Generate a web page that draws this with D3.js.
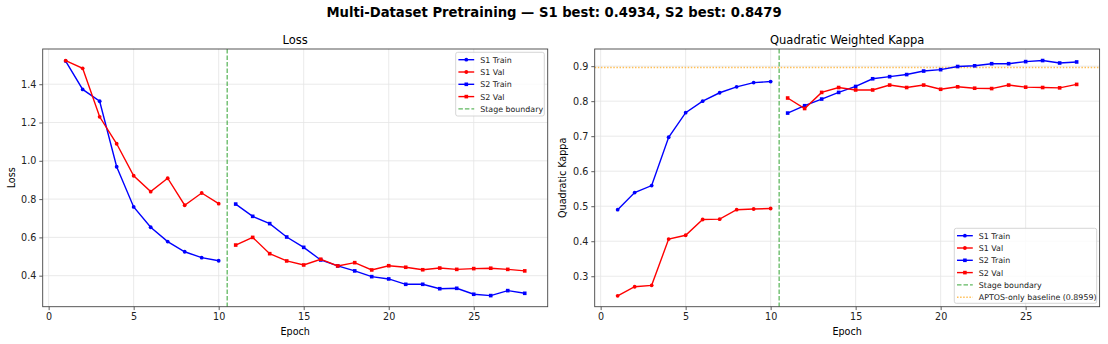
<!DOCTYPE html>
<html><head><meta charset="utf-8">
<script src="https://cdn.jsdelivr.net/npm/d3@7"></script>
<style>body{margin:0;background:#fff}svg{display:block;font-family:"DejaVu Sans",sans-serif}</style>
</head><body><svg id="c" width="1108" height="344"></svg>
<script>
const s1Epochs = [1,2,3,4,5,6,7,8,9,10];
const s2Epochs = [11,12,13,14,15,16,17,18,19,20,21,22,23,24,25,26,27,28];
const s1TrainLoss = [1.521,1.373,1.311,0.969,0.759,0.653,0.578,0.525,0.494,0.478];
const s1ValLoss = [1.523,1.483,1.230,1.089,0.922,0.839,0.909,0.768,0.832,0.776];
const s2TrainLoss = [0.774,0.710,0.672,0.602,0.548,0.482,0.451,0.425,0.395,0.383,0.355,0.355,0.332,0.334,0.303,0.296,0.322,0.308];
const s2ValLoss = [0.560,0.600,0.515,0.477,0.456,0.486,0.451,0.468,0.430,0.452,0.444,0.431,0.440,0.433,0.437,0.439,0.433,0.425];
const s1TrainKappa = [0.490,0.539,0.559,0.697,0.767,0.800,0.824,0.841,0.853,0.856];
const s1ValKappa = [0.244,0.270,0.274,0.406,0.417,0.462,0.463,0.490,0.492,0.4934];
const s2TrainKappa = [0.766,0.787,0.806,0.825,0.842,0.864,0.870,0.876,0.886,0.890,0.899,0.901,0.907,0.907,0.913,0.916,0.909,0.912];
const s2ValKappa = [0.809,0.779,0.825,0.839,0.832,0.832,0.846,0.839,0.846,0.834,0.841,0.837,0.836,0.846,0.840,0.839,0.838,0.8479];
const xTicks = [0,5,10,15,20,25];
const lossTicks = [0.4,0.6,0.8,1.0,1.2,1.4];
const kappaTicks = [0.3,0.4,0.5,0.6,0.7,0.8,0.9];
const stageBoundary = 10.5;
const baseline = 0.8959;
const suptitle = "Multi-Dataset Pretraining — S1 best: 0.4934, S2 best: 0.8479";

const svg = d3.select("#c");
const BLUE = "#0000ff", RED = "#ff0000";
const GREEN_DASH = "4.5,2", ORANGE_DOT = "1.5,1.6";
const ORANGE = "#ffbe55";

svg.append("text").attr("x",554).attr("y",17).attr("text-anchor","middle")
  .attr("font-size",13.2).attr("font-weight","bold").attr("fill","#000").text(suptitle);

function panel(o){
  const x = d3.scaleLinear().domain([-0.35,29.35]).range([o.x0,o.x1]);
  const y = d3.scaleLinear().domain(o.ydom).range([306.7,49]);
  const g = svg.append("g");
  g.selectAll(".gx").data(xTicks).join("line")
    .attr("x1",d=>x(d)).attr("x2",d=>x(d)).attr("y1",49).attr("y2",306.7)
    .attr("stroke","#e5e5e5").attr("stroke-width",0.8);
  g.selectAll(".gy").data(o.yticks).join("line")
    .attr("y1",d=>y(d)).attr("y2",d=>y(d)).attr("x1",o.x0).attr("x2",o.x1)
    .attr("stroke","#e5e5e5").attr("stroke-width",0.8);
  const ax = g.append("g").attr("transform","translate(0,306.7)")
    .call(d3.axisBottom(x).tickValues(xTicks).tickFormat(d3.format("d")).tickSize(3.4).tickPadding(3));
  const ay = g.append("g").attr("transform",`translate(${o.x0},0)`)
    .call(d3.axisLeft(y).tickValues(o.yticks).tickFormat(d3.format(".1f")).tickSize(3.4).tickPadding(3));
  [ax,ay].forEach(a=>{a.select(".domain").remove();
    a.selectAll("text").attr("font-size",9.6).attr("fill","#222").attr("font-family","DejaVu Sans");
    a.selectAll("line").attr("stroke","#333").attr("stroke-width",0.8);});
  if(o.baseline!=null){
    g.append("line").attr("x1",o.x0).attr("x2",o.x1).attr("y1",y(o.baseline)).attr("y2",y(o.baseline))
      .attr("stroke",ORANGE).attr("stroke-width",1.5).attr("stroke-dasharray",ORANGE_DOT);
  }
  g.append("line").attr("x1",x(stageBoundary)).attr("x2",x(stageBoundary)).attr("y1",49).attr("y2",306.7)
    .attr("stroke","#2ca02c").attr("stroke-opacity",0.75).attr("stroke-width",1.3).attr("stroke-dasharray",GREEN_DASH);
  const line = d3.line().x(d=>x(d[0])).y(d=>y(d[1]));
  function series(ep,vals,color,shape){
    const pts = ep.map((e,i)=>[e,vals[i]]);
    g.append("path").datum(pts).attr("d",line).attr("fill","none").attr("stroke",color).attr("stroke-width",1.4);
    if(shape==="o"){
      g.selectAll(null).data(pts).join("circle").attr("cx",d=>x(d[0])).attr("cy",d=>y(d[1])).attr("r",1.9).attr("fill",color);
    } else {
      g.selectAll(null).data(pts).join("rect").attr("x",d=>x(d[0])-1.8).attr("y",d=>y(d[1])-1.8).attr("width",3.6).attr("height",3.6).attr("fill",color);
    }
  }
  series(s1Epochs,o.s1t,BLUE,"o");
  series(s1Epochs,o.s1v,RED,"o");
  series(s2Epochs,o.s2t,BLUE,"s");
  series(s2Epochs,o.s2v,RED,"s");
  g.append("rect").attr("x",o.x0).attr("y",49).attr("width",o.x1-o.x0).attr("height",306.7-49)
    .attr("fill","none").attr("stroke","#444").attr("stroke-width",0.9);
  g.append("text").attr("x",(o.x0+o.x1)/2).attr("y",44).attr("text-anchor","middle").attr("font-size",11.5).attr("fill","#000").text(o.title);
  g.append("text").attr("x",(o.x0+o.x1)/2).attr("y",335).attr("text-anchor","middle").attr("font-size",9.6).attr("fill","#000").text("Epoch");
  g.append("text").attr("transform",`translate(${o.ylx},${(49+306.7)/2}) rotate(-90)`).attr("text-anchor","middle").attr("font-size",9.6).attr("fill","#000").text(o.ylabel);
  const L = o.legend;
  const items = [
    {t:"S1 Train",c:BLUE,m:"o",dash:null},
    {t:"S1 Val",c:RED,m:"o",dash:null},
    {t:"S2 Train",c:BLUE,m:"s",dash:null},
    {t:"S2 Val",c:RED,m:"s",dash:null},
    {t:"Stage boundary",c:"#2ca02c",m:null,dash:GREEN_DASH,op:0.75}];
  if(o.baseline!=null) items.push({t:"APTOS-only baseline (0.8959)",c:ORANGE,m:null,dash:ORANGE_DOT,op:1});
  g.append("rect").attr("x",L.x).attr("y",L.y).attr("width",L.w).attr("height",L.h).attr("rx",2)
    .attr("fill","#fff").attr("fill-opacity",0.8).attr("stroke","#ccc").attr("stroke-width",0.8);
  items.forEach((it,i)=>{
    const yy = L.y+7.4+i*12.3;
    g.append("line").attr("x1",L.x+2.7).attr("x2",L.x+18.5).attr("y1",yy).attr("y2",yy)
      .attr("stroke",it.c).attr("stroke-width",1.4).attr("stroke-dasharray",it.dash).attr("stroke-opacity",it.op||1);
    if(it.m==="o") g.append("circle").attr("cx",L.x+10.6).attr("cy",yy).attr("r",1.9).attr("fill",it.c);
    if(it.m==="s") g.append("rect").attr("x",L.x+8.8).attr("y",yy-1.8).attr("width",3.6).attr("height",3.6).attr("fill",it.c);
    g.append("text").attr("x",L.x+24.5).attr("y",yy+2.9).attr("font-size",7.9).attr("fill","#222").text(it.t);
  });
}

panel({x0:42.7,x1:547.7,ydom:[0.238,1.584],yticks:lossTicks,title:"Loss",ylabel:"Loss",ylx:15,
  s1t:s1TrainLoss,s1v:s1ValLoss,s2t:s2TrainLoss,s2v:s2ValLoss,baseline:null,
  legend:{x:455.7,y:52.3,w:88.6,h:63.7}});
panel({x0:594.7,x1:1099.6,ydom:[0.213,0.949],yticks:kappaTicks,title:"Quadratic Weighted Kappa",ylabel:"Quadratic Kappa",ylx:566,
  s1t:s1TrainKappa,s1v:s1ValKappa,s2t:s2TrainKappa,s2v:s2ValKappa,baseline:baseline,
  legend:{x:954.3,y:228.3,w:142.4,h:75}});
</script></body></html>
